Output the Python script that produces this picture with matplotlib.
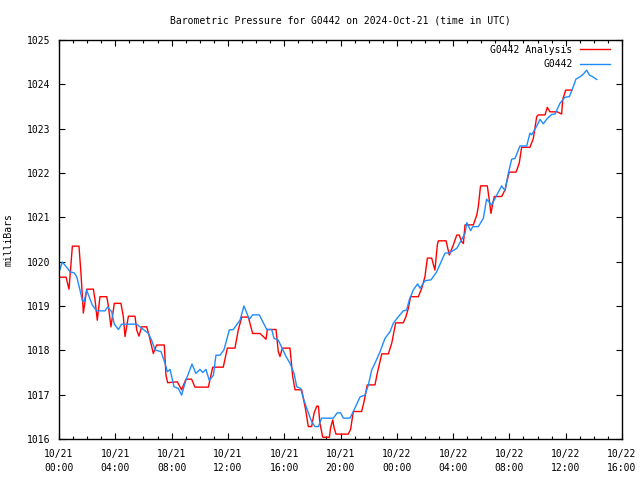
import numpy as np
import matplotlib
matplotlib.use('Agg')
import matplotlib.pyplot as plt
import matplotlib.dates as mdates

# hours since 2024-10-21 00:00 UTC, pressure in mb
obs_hours = [0.00, 0.24, 0.66, 0.78, 1.07, 1.26, 1.49, 1.66, 1.78, 1.97, 2.09, 2.37, 2.68, 3.27,
             3.46, 3.74, 3.93, 4.22, 4.45, 5.52, 6.35, 6.58, 6.82, 7.25, 7.53, 7.70, 7.89, 8.17,
             8.48, 8.71, 9.02, 9.45, 9.73, 10.02, 10.21, 10.44, 10.68, 10.97, 11.15, 11.44, 11.72,
             12.10, 12.38, 12.86, 13.14, 13.52, 13.76, 14.23, 14.76, 15.11, 15.28, 15.58, 16.13,
             16.41, 16.70, 16.89, 17.17, 17.36, 17.60, 17.95, 18.19, 18.43, 18.66, 19.49, 19.77,
             20.01, 20.20, 20.67, 20.91, 21.39, 21.74, 21.98, 22.22, 22.45, 22.81, 23.16, 23.52,
             23.75, 24.11, 24.46, 24.70, 24.89, 25.17, 25.48, 25.65, 26.00, 26.43, 26.83, 27.42,
             27.73, 28.26, 28.85, 28.97, 29.25, 29.39, 29.79, 30.15, 30.38, 30.54, 30.74, 31.10,
             31.45, 31.69, 31.92, 32.16, 32.40, 32.75, 33.23, 33.46, 33.58, 33.98, 34.17, 34.41,
             34.69, 35.00, 35.24, 35.59, 35.95, 36.26, 36.54, 36.73, 37.02, 37.25, 37.49, 37.68,
             37.92, 38.20]
obs_mb = [1019.77, 1019.99, 1019.83, 1019.77, 1019.75, 1019.66, 1019.36, 1019.12, 1019.10, 1019.36,
          1019.25, 1019.02, 1018.89, 1018.89, 1018.98, 1018.87, 1018.59, 1018.47, 1018.59, 1018.59,
          1018.38, 1018.23, 1018.01, 1017.97, 1017.71, 1017.52, 1017.57, 1017.18, 1017.14, 1016.99,
          1017.33, 1017.69, 1017.48, 1017.57, 1017.50, 1017.57, 1017.32, 1017.44, 1017.89, 1017.89,
          1018.01, 1018.46, 1018.47, 1018.68, 1019.00, 1018.70, 1018.80, 1018.80, 1018.47, 1018.47,
          1018.27, 1018.23, 1017.86, 1017.71, 1017.48, 1017.18, 1017.14, 1016.92, 1016.69, 1016.39,
          1016.28, 1016.28, 1016.47, 1016.47, 1016.59, 1016.59, 1016.47, 1016.47, 1016.62, 1016.95,
          1016.99, 1017.22, 1017.56, 1017.71, 1017.97, 1018.27, 1018.42, 1018.61, 1018.76, 1018.89,
          1018.91, 1019.14, 1019.36, 1019.50, 1019.40, 1019.57, 1019.59, 1019.77, 1020.19, 1020.20,
          1020.30, 1020.64, 1020.88, 1020.70, 1020.79, 1020.79, 1020.98, 1021.41, 1021.35, 1021.28,
          1021.50, 1021.71, 1021.60, 1021.99, 1022.31, 1022.33, 1022.61, 1022.61, 1022.90, 1022.86,
          1023.08, 1023.21, 1023.11, 1023.23, 1023.32, 1023.33, 1023.57, 1023.71, 1023.72, 1023.95,
          1024.12, 1024.17, 1024.23, 1024.32, 1024.21, 1024.17, 1024.11]

ana_hours = [0.00, 0.50, 0.71, 0.95, 1.42, 1.56, 1.73, 1.80, 1.97, 2.44, 2.56, 2.72, 2.91, 3.39,
             3.50, 3.69, 3.93, 4.40, 4.57, 4.69, 4.93, 5.40, 5.52, 5.68, 5.87, 6.23, 6.39, 6.70,
             6.94, 7.48, 7.60, 7.72, 8.40, 8.71, 9.02, 9.42, 9.66, 10.61, 10.92, 11.67, 11.96,
             12.50, 12.74, 12.98, 13.45, 13.76, 14.28, 14.71, 14.80, 15.42, 15.58, 15.70, 15.87,
             16.41, 16.60, 16.77, 17.24, 17.53, 17.71, 17.95, 18.12, 18.31, 18.43, 18.54, 18.74,
             19.21, 19.30, 19.45, 19.54, 19.68, 20.55, 20.72, 20.91, 21.50, 21.67, 21.90, 22.45,
             22.61, 22.93, 23.40, 23.64, 23.92, 24.46, 24.65, 24.82, 24.98, 25.53, 25.77, 26.00,
             26.17, 26.48, 26.60, 26.71, 26.88, 26.95, 27.50, 27.62, 27.73, 28.02, 28.26, 28.44,
             28.61, 28.73, 28.85, 29.44, 29.68, 29.79, 29.95, 30.43, 30.57, 30.69, 30.81, 30.93,
             31.45, 31.69, 31.81, 31.99, 32.47, 32.70, 32.87, 33.46, 33.70, 33.94, 34.05, 34.53,
             34.69, 34.88, 35.40, 35.71, 35.79, 36.00, 36.45]
ana_mb = [1019.65, 1019.65, 1019.38, 1020.35, 1020.35, 1019.74, 1018.84, 1019.00, 1019.38, 1019.38,
          1019.14, 1018.68, 1019.21, 1019.21, 1019.02, 1018.53, 1019.06, 1019.06, 1018.76, 1018.31,
          1018.77, 1018.77, 1018.46, 1018.32, 1018.53, 1018.53, 1018.35, 1017.93, 1018.12, 1018.12,
          1017.44, 1017.27, 1017.29, 1017.11, 1017.35, 1017.35, 1017.17, 1017.17, 1017.62, 1017.62,
          1018.05, 1018.05, 1018.46, 1018.75, 1018.75, 1018.38, 1018.38, 1018.25, 1018.47, 1018.47,
          1017.97, 1017.86, 1018.05, 1018.05, 1017.42, 1017.11, 1017.11, 1016.65, 1016.28, 1016.28,
          1016.58, 1016.74, 1016.74, 1016.35, 1016.04, 1016.04, 1016.26, 1016.43, 1016.26, 1016.11,
          1016.11, 1016.22, 1016.62, 1016.62, 1016.84, 1017.22, 1017.22, 1017.48, 1017.92, 1017.92,
          1018.16, 1018.62, 1018.62, 1018.76, 1018.95, 1019.21, 1019.21, 1019.40, 1019.66, 1020.08,
          1020.08, 1019.93, 1019.81, 1020.38, 1020.47, 1020.47, 1020.30, 1020.15, 1020.38, 1020.60,
          1020.60, 1020.45, 1020.41, 1020.83, 1020.83, 1021.05, 1021.24, 1021.71, 1021.71, 1021.39,
          1021.09, 1021.30, 1021.47, 1021.47, 1021.62, 1021.80, 1022.02, 1022.02, 1022.22, 1022.58,
          1022.58, 1022.78, 1023.27, 1023.31, 1023.31, 1023.48, 1023.38, 1023.38, 1023.33, 1023.66,
          1023.87, 1023.87]

start = np.datetime64('2024-10-21T00:00')


def to_time(hours):
    return start + (np.array(hours) * 3600).astype('timedelta64[s]')


plt.rcParams['font.family'] = ['DejaVu Sans Mono']
plt.rcParams['font.size'] = 7

fig = plt.figure(figsize=(6.4, 4.8), dpi=100)
ax = fig.add_axes([59 / 640, 41 / 480, 563 / 640, 399 / 480])

ax.plot(to_time(ana_hours), ana_mb, color='#ff0000', lw=1.0, label='G0442 Analysis')
ax.plot(to_time(obs_hours), obs_mb, color='#1e8cff', lw=1.0, label='G0442')

ax.set_xlim(start, start + np.timedelta64(40, 'h'))
ax.set_ylim(1016, 1025)
ax.set_yticks(range(1016, 1026))
ax.xaxis.set_major_locator(mdates.HourLocator(byhour=[0, 4, 8, 12, 16, 20]))
ax.xaxis.set_minor_locator(mdates.HourLocator())
ax.xaxis.set_major_formatter(mdates.DateFormatter('%m/%d\n%H:%M'))
for lbl in ax.get_xticklabels():
    lbl.set_linespacing(1.55)

ax.tick_params(which='both', direction='in', top=True, right=True, width=0.8)
ax.tick_params(which='major', length=4.5, pad=6)
ax.tick_params(axis='x', which='major', pad=7)
ax.tick_params(which='minor', length=2.5)
for s in ax.spines.values():
    s.set_linewidth(1.0)

ax.set_ylabel('milliBars', labelpad=10, fontsize=7)
ax.set_title('Barometric Pressure for G0442 on 2024-Oct-21 (time in UTC)', pad=12, fontsize=7)

ax.legend(loc='upper right', bbox_to_anchor=(0.99, 1.005), frameon=False, markerfirst=False,
          handlelength=3.0, handletextpad=0.8, labelspacing=0.45, borderaxespad=0.3)

fig.savefig('out.png', dpi=100)
